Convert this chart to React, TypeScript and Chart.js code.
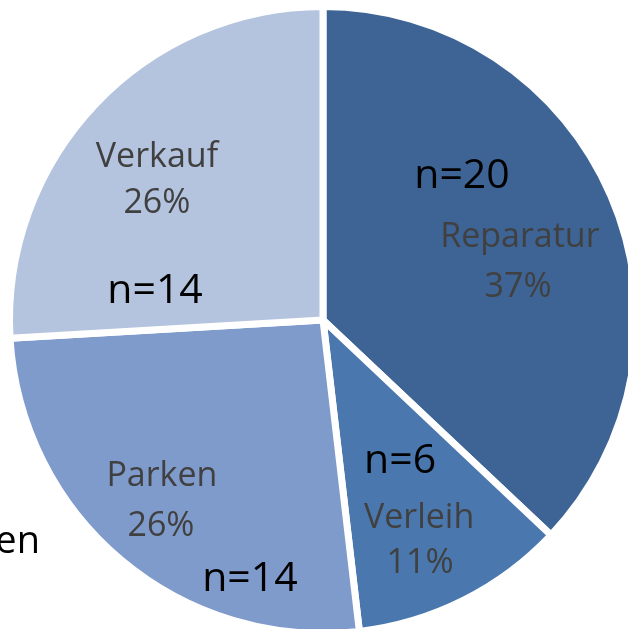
import React, { useEffect, useRef } from "react";
import { Chart, registerables } from "chart.js";

Chart.register(...registerables);

const categories = ["Reparatur", "Verleih", "Parken", "Verkauf"];
const counts = [20, 6, 14, 14];
const colors = ["#3D6494", "#4A78AE", "#7F9BCB", "#B4C3DE"];
const cutText = "en";

// label placement relative to pie centre, in units of visible radius
const namePos = [
  [0.633, -0.235],
  [0.309, 0.669],
  [-0.518, 0.534],
  [-0.534, -0.492],
];
const pctPos = [
  [0.627, -0.074],
  [0.312, 0.814],
  [-0.521, 0.695],
  [-0.534, -0.344],
];
const nPos = [
  [0.447, -0.424],
  [0.248, 0.492],
  [-0.235, 0.871],
  [-0.54, -0.055],
];

export default function App() {
  const ref = useRef<HTMLCanvasElement | null>(null);
  useEffect(() => {
    if (!ref.current) return;
    const total = counts.reduce((a, b) => a + b, 0);
    const labelPlugin = {
      id: "labels",
      afterDraw(chart: any) {
        const meta = chart.getDatasetMeta(0);
        const ctx = chart.ctx;
        ctx.save();
        meta.data.forEach((arc: any, i: number) => {
          const R = 311;
          const cx = arc.x;
          const cy = arc.y;
          ctx.textAlign = "center";
          ctx.textBaseline = "alphabetic";
          ctx.fillStyle = "#404040";
          ctx.font = '34px "Open Sans"';
          ctx.fillText(categories[i], cx + namePos[i][0] * R, cy + namePos[i][1] * R);
          const pct = Math.round((counts[i] / total) * 100) + "%";
          ctx.fillText(pct, cx + pctPos[i][0] * R, cy + pctPos[i][1] * R);
          ctx.fillStyle = "#000000";
          ctx.font = '41px "Open Sans"';
          ctx.fillText("n=" + counts[i], cx + nPos[i][0] * R, cy + nPos[i][1] * R);
          if (i === 0) {
            ctx.textAlign = "right";
            ctx.font = '38px "Open Sans"';
            ctx.fillText(cutText, cx - 0.91 * R, cy + 0.749 * R);
          }
        });
        ctx.restore();
      },
    };
    const chart = new Chart(ref.current, {
      type: "pie",
      data: {
        labels: categories,
        datasets: [
          {
            data: counts,
            backgroundColor: colors,
            borderColor: "#FFFFFF",
            borderWidth: 7,
          },
        ],
      },
      options: {
        animation: false,
        responsive: false,
        layout: { padding: 23 },
        plugins: { legend: { display: false }, tooltip: { enabled: false } },
      },
      plugins: [labelPlugin],
    });
    return () => chart.destroy();
  }, []);
  return (
    <div
      style={{
        position: "fixed",
        left: 0,
        top: 0,
        width: 628,
        height: 629,
        overflow: "hidden",
        background: "#fff",
      }}
    >
      <canvas
        ref={ref}
        width={680}
        height={680}
        style={{ position: "absolute", left: -17, top: -20, width: 680, height: 680 }}
      />
    </div>
  );
}
